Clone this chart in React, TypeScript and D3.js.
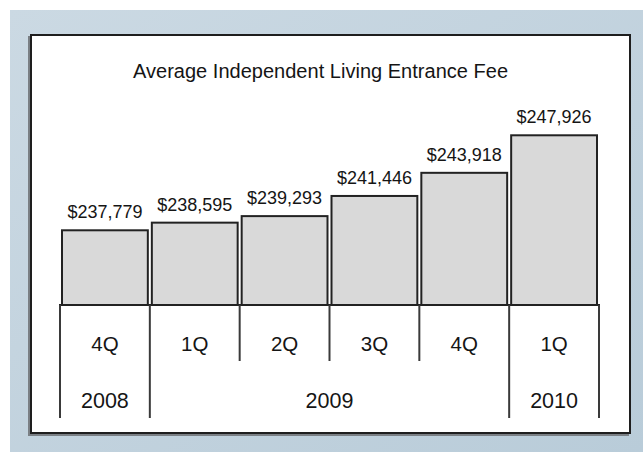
import React, { useEffect, useRef } from "react";
import * as d3 from "d3";

// values
const quarters = ["4Q", "1Q", "2Q", "3Q", "4Q", "1Q"];
const fees = [237779, 238595, 239293, 241446, 243918, 247926];
const years = ["2008", "2009", "2010"];
const yearSpans = [1, 4, 1]; // how many quarters under each year
const title = "Average Independent Living Entrance Fee";

const W = 643, H = 452;
const FONT = "Liberation Sans, Arial, sans-serif";

export default function App() {
  const ref = useRef<SVGSVGElement>(null);

  useEffect(() => {
    const svg = d3.select(ref.current);
    svg.selectAll("*").remove();

    // blue backdrop
    const defs = svg.append("defs");
    const grad = defs.append("linearGradient").attr("id", "bg").attr("x1", 0).attr("y1", 0).attr("x2", 1).attr("y2", 1);
    grad.append("stop").attr("offset", "0%").attr("stop-color", "#cbd9e3");
    grad.append("stop").attr("offset", "100%").attr("stop-color", "#b9ccd9");
    svg.append("rect").attr("x", 10).attr("y", 10).attr("width", W - 10).attr("height", H - 10).attr("fill", "url(#bg)");

    // white panel with small shadow
    svg.append("rect").attr("x", 29).attr("y", 37).attr("width", 599).attr("height", 398)
      .attr("fill", "none").attr("stroke", "#7a7f84").attr("stroke-width", 2);
    svg.append("rect").attr("x", 31).attr("y", 35).attr("width", 599).attr("height", 398)
      .attr("fill", "#fff").attr("stroke", "#1e1e1e").attr("stroke-width", 2);

    svg.append("text")
      .attr("x", 320.5).attr("y", 78)
      .attr("text-anchor", "middle")
      .attr("font-family", FONT)
      .attr("font-size", 20)
      .attr("textLength", 375)
      .attr("lengthAdjust", "spacing")
      .attr("fill", "#151515")
      .text(title);

    const baseY = 305;
    const idx = quarters.map((_, i) => i);
    const x = d3.scaleBand<number>().domain(idx).range([60, 599]).padding(0);
    const y = d3.scaleLinear().domain([229800, 248000]).range([baseY, 134.6]);

    const g = svg.append("g");

    // bars
    g.selectAll(".bar")
      .data(fees)
      .join("rect")
      .attr("class", "bar")
      .attr("x", (d, i) => (x(i) as number) + 2)
      .attr("y", d => y(d))
      .attr("width", x.bandwidth() - 4)
      .attr("height", d => baseY - y(d))
      .attr("fill", "#d9d9d9")
      .attr("stroke", "#222")
      .attr("stroke-width", 2);

    // value labels
    g.selectAll(".val")
      .data(fees)
      .join("text")
      .attr("class", "val")
      .attr("x", (d, i) => (x(i) as number) + x.bandwidth() / 2)
      .attr("y", d => y(d) - 12)
      .attr("text-anchor", "middle")
      .attr("font-family", FONT)
      .attr("font-size", 18)
      .attr("fill", "#151515")
      .text(d => "$" + d3.format(",")(d));

    // category axis
    g.append("line").attr("x1", 59).attr("x2", 600).attr("y1", baseY).attr("y2", baseY)
      .attr("stroke", "#222").attr("stroke-width", 2);

    // year boundaries in quarter index
    const yearEdges: number[] = [0];
    yearSpans.forEach(s => yearEdges.push(yearEdges[yearEdges.length - 1] + s));
    const edges = d3.range(quarters.length + 1);
    g.selectAll(".div")
      .data(edges)
      .join("line")
      .attr("class", "div")
      .attr("x1", e => 60 + e * x.step())
      .attr("x2", e => 60 + e * x.step())
      .attr("y1", baseY)
      .attr("y2", e => (yearEdges.includes(e) ? 418 : 361))
      .attr("stroke", "#3a3a3a")
      .attr("stroke-width", 2);

    g.selectAll(".q")
      .data(quarters)
      .join("text")
      .attr("class", "q")
      .attr("x", (d, i) => (x(i) as number) + x.bandwidth() / 2)
      .attr("y", 351)
      .attr("text-anchor", "middle")
      .attr("font-family", FONT)
      .attr("font-size", 20.5)
      .attr("fill", "#151515")
      .text(d => d);

    g.selectAll(".yr")
      .data(years)
      .join("text")
      .attr("class", "yr")
      .attr("x", (d, i) => 60 + ((yearEdges[i] + yearEdges[i + 1]) / 2) * x.step())
      .attr("y", 408)
      .attr("text-anchor", "middle")
      .attr("font-family", FONT)
      .attr("font-size", 21.5)
      .attr("fill", "#151515")
      .text(d => d);
  }, []);

  return (
    <svg ref={ref} width={W} height={H} style={{ position: "absolute", left: 0, top: 0, background: "#fff" }} />
  );
}
